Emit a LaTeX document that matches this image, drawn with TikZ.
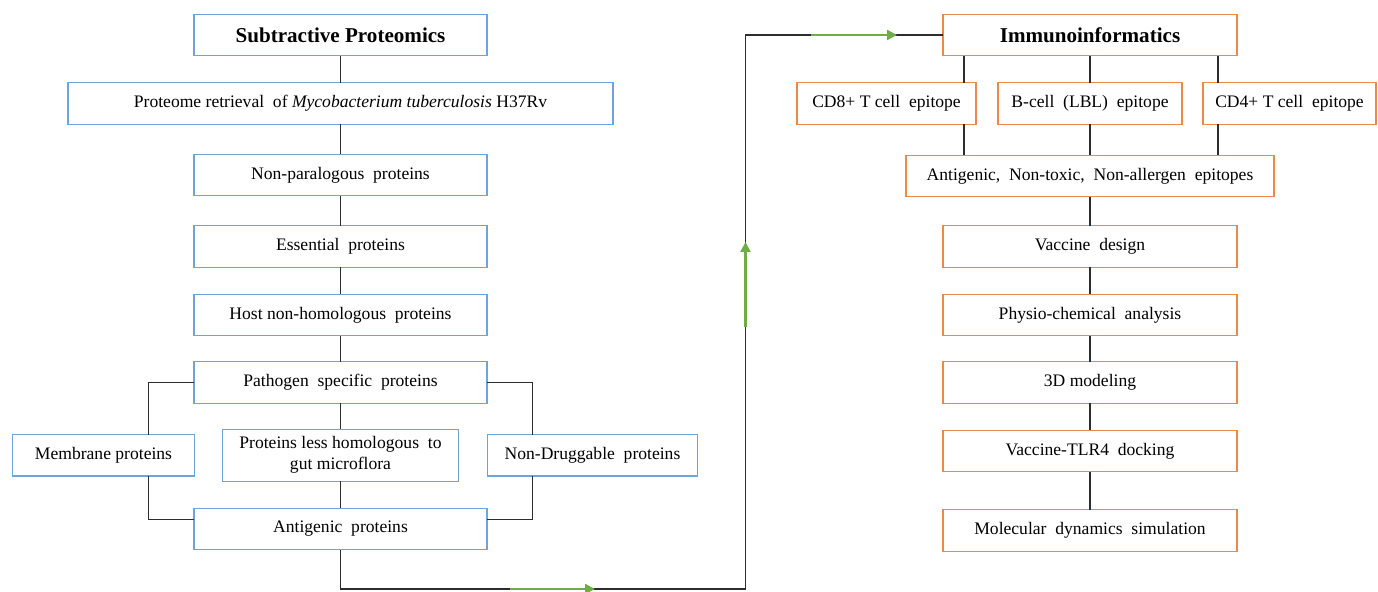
\documentclass[tikz,border=0pt]{standalone}
\usepackage{fontspec}
\setmainfont{Liberation Serif}
\usetikzlibrary{arrows.meta,positioning}

\definecolor{boxblue}{RGB}{108,164,220}
\definecolor{boxorange}{RGB}{239,135,70}
\definecolor{flowgreen}{RGB}{112,173,71}
\definecolor{linegray}{RGB}{45,45,45}

\begin{document}
\begin{tikzpicture}[
			>=Latex,
			subtract/.style={
				draw=boxblue,
				line width=0.6pt,
				outer sep=0pt,
				align=center,
				font=\fontsize{10}{12}\selectfont,
				minimum width=5.86cm,
				minimum height=0.83cm,
				fill=white
			},
			immuno/.style={
				subtract,
				draw=boxorange,
				minimum width=5.88cm
			},
			heading/.style={
				font=\fontsize{12}{14}\selectfont\bfseries
			},
			link/.style={
				draw=linegray,
				line width=0.6pt
			},
			flow/.style={
				draw=flowgreen,
				line width=1.3pt,
				-{Triangle[length=0.2cm,width=0.2cm]}
			}
			]
			
			\useasboundingbox (0,0) rectangle (27.56,-11.84);
			
			% Subtractive proteomics column
			\node[subtract,heading] (subtr) at (6.81,-0.70) {Subtractive Proteomics};
			\node[subtract,minimum width=10.9cm,below=0.54cm of subtr] (proteome)
			{Proteome retrieval\ \ of \textit{Mycobacterium tuberculosis} H37Rv};
			\node[subtract,below=0.6cm of proteome] (nonpara) {Non-paralogous\ \ proteins};
			\node[subtract,below=0.6cm of nonpara] (essential) {Essential\ \ proteins};
			\node[subtract,below=0.54cm of essential] (hostnon) {Host non-homologous\ \ proteins};
			\node[subtract,below=0.52cm of hostnon] (pathogen) {Pathogen\ \ specific\ \ proteins};
			\node[subtract,minimum width=4.72cm,minimum height=1.04cm,below=0.52cm of pathogen] (lesshom)
			{Proteins less homologous\ \ to\\gut microflora};
			\node[subtract,minimum width=3.64cm,left=0.56cm of lesshom] (membrane) {Membrane proteins};
			\node[subtract,minimum width=4.2cm,right=0.58cm of lesshom] (nondrug) {Non-Druggable\ \ proteins};
			\node[subtract,below=0.54cm of lesshom] (antigenic) {Antigenic\ \ proteins};
			
			% Immunoinformatics column
			\node[immuno,heading] (immuno) at (21.8,-0.70) {Immunoinformatics};
			\node[immuno,minimum width=3.68cm,below=0.54cm of immuno] (bcell) {B-cell\ \ (LBL)\ \ epitope};
			\node[immuno,minimum width=3.58cm,left=0.44cm of bcell] (cdeight) {CD8+ T cell\ \ epitope};
			\node[immuno,minimum width=3.46cm,right=0.42cm of bcell] (cdfour) {CD4+ T cell\ \ epitope};
			\node[immuno,minimum width=7.36cm,below=0.62cm of bcell] (epitopes)
			{Antigenic,\ \ Non-toxic,\ \ Non-allergen\ \ epitopes};
			\node[immuno,below=0.58cm of epitopes] (design) {Vaccine\ \ design};
			\node[immuno,below=0.54cm of design] (physio) {Physio-chemical\ \ analysis};
			\node[immuno,below=0.52cm of physio] (model) {3D modeling};
			\node[immuno,below=0.54cm of model] (docking) {Vaccine-TLR4\ \ docking};
			\node[immuno,below=0.76cm of docking] (mdsim) {Molecular\ \ dynamics\ \ simulation};
			
			% Links in the left column
			\draw[link] (subtr) -- (proteome);
			\draw[link] (proteome) -- (nonpara);
			\draw[link] (nonpara) -- (essential);
			\draw[link] (essential) -- (hostnon);
			\draw[link] (hostnon) -- (pathogen);
			\draw[link] (pathogen) -- (lesshom);
			\draw[link] (lesshom) -- (antigenic);
			\draw[link] (pathogen.west) -| ([xshift=0.9cm]membrane.north);
			\draw[link] ([xshift=0.9cm]membrane.south) |- ([yshift=0.19cm]antigenic.west);
			\draw[link] (pathogen.east) -| ([xshift=-1.2cm]nondrug.north);
			\draw[link] ([xshift=-1.2cm]nondrug.south) |- ([yshift=0.19cm]antigenic.east);
			
			% Link between the columns
			\coordinate (turn) at (14.91,-11.78);
			\draw[link] (antigenic.south) |- (turn) |- (immuno.west);
			
			% Green arrows
			\coordinate (gaa) at (10.2,-11.78);
			\coordinate (gab) at (11.9,-11.78);
			\coordinate (gba) at (14.91,-6.54);
			\coordinate (gbb) at (14.91,-4.84);
			\coordinate (gca) at (16.22,-0.70);
			\coordinate (gcb) at (17.94,-0.70);
			\draw[flow] (gaa) -- (gab);
			\draw[flow] (gba) -- (gbb);
			\draw[flow] (gca) -- (gcb);
			
			% Links in the right column
			\draw[link] ([xshift=1.55cm]cdeight.north) -- ([xshift=1.55cm]cdeight.north |- immuno.south);
			\draw[link] (immuno) -- (bcell);
			\draw[link] ([xshift=-1.43cm]cdfour.north) -- ([xshift=-1.43cm]cdfour.north |- immuno.south);
			\draw[link] ([xshift=1.55cm]cdeight.south) -- ([xshift=1.55cm]cdeight.south |- epitopes.north);
			\draw[link] (bcell) -- (epitopes);
			\draw[link] ([xshift=-1.43cm]cdfour.south) -- ([xshift=-1.43cm]cdfour.south |- epitopes.north);
			\draw[link] (epitopes) -- (design);
			\draw[link] (design) -- (physio);
			\draw[link] (physio) -- (model);
			\draw[link] (model) -- (docking);
			\draw[link] (docking) -- (mdsim);
			
		\end{tikzpicture}
\end{document}
